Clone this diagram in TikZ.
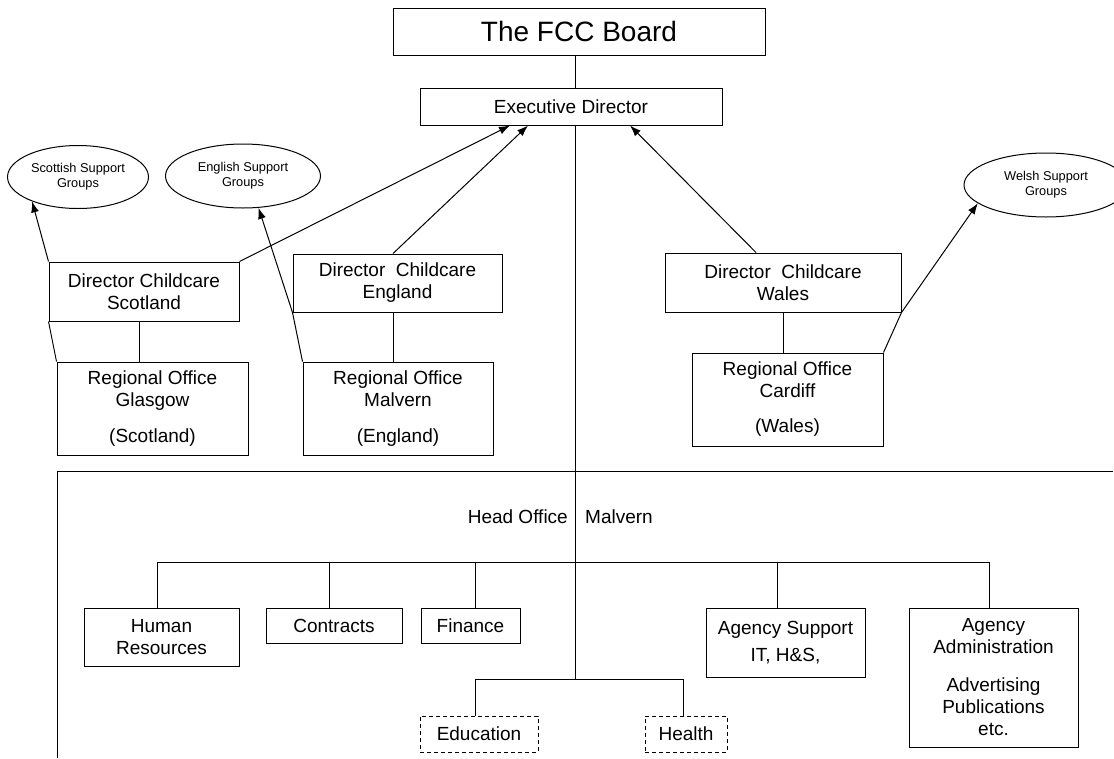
\documentclass[tikz,border=0pt]{standalone}
\usepackage{fontspec}
\setmainfont{Liberation Sans}
\usetikzlibrary{shapes.geometric,arrows.meta}
\tikzset{
  box/.style={draw=black, line width=1pt, align=center, inner sep=0pt, fill=white,
    font=\fontsize{19}{22}\selectfont},
  dbox/.style={box, dash pattern=on 4pt off 3pt},
  grp/.style={draw=black, line width=1pt, shape=ellipse, align=center, inner sep=0pt,
    font=\fontsize{12.8}{15}\selectfont},
  txt/.style={inner sep=0pt, font=\fontsize{19}{22}\selectfont},
  con/.style={draw=black, line width=0.9pt},
  arr/.style={con, line width=1pt, -{Latex[length=11pt,width=8pt]}}
}
\begin{document}
\begin{tikzpicture}[x=1pt,y=-1pt]
\useasboundingbox (0,0) rectangle (1114,758);

% boxes
\node[box, minimum width=372pt, minimum height=47pt, font=\fontsize{28}{32}\selectfont] (board) at (579,31.5) {The FCC Board};
\node[box, minimum width=302pt, minimum height=37pt] (ed) at (571,106.5) {Executive Director};

\node[box, minimum width=190pt, minimum height=59pt] (dsco) at (144,291.5) {Director Childcare\\Scotland};
\node[box, minimum width=209pt, minimum height=58pt] (deng) at (397.5,283) {Director~ Childcare\\England};
\node[box, minimum width=236pt, minimum height=59pt] (dwal) at (783,282.5) {Director~ Childcare\\Wales};

\node[box, minimum width=191pt, minimum height=93pt] (rglas) at (152.5,408.5) {Regional Office\\Glasgow\\[14pt](Scotland)};
\node[box, minimum width=190pt, minimum height=93pt] (rmalv) at (398,408.5) {Regional Office\\Malvern\\[14pt](England)};
\node[box, minimum width=191pt, minimum height=93pt] (rcard) at (787.5,399.5) {Regional Office\\Cardiff\\[13pt](Wales)};

\node[grp, minimum width=141pt, minimum height=63pt] (sco) at (78,177) {Scottish Support\\Groups};
\node[grp, minimum width=155pt, minimum height=64pt] (eng) at (243,176) {English Support\\Groups};
\node[grp, minimum width=164pt, minimum height=64pt] (wel) at (1046,185) {Welsh Support\\Groups};

\node[box, minimum width=155pt, minimum height=58pt] (hr) at (161.5,637) {Human\\Resources};
\node[box, minimum width=136pt, minimum height=35pt] (cont) at (334,625.5) {Contracts};
\node[box, minimum width=99pt, minimum height=35pt] (fin) at (470.5,625.5) {Finance};
\node[box, minimum width=159pt, minimum height=69pt] (asup) at (785.5,642.5) {Agency Support\\[5pt]IT, H\&S,};
\node[box, minimum width=169pt, minimum height=139pt] (aadm) at (993.5,677.5) {Agency\\Administration\\[16pt]Advertising\\Publications\\etc.};

\node[dbox, minimum width=118pt, minimum height=36pt] (edu) at (479,734) {Education};
\node[dbox, minimum width=82pt, minimum height=36pt] (hea) at (686,734) {Health};

\node[txt, anchor=east] (ho) at (568,517) {Head Office};
\node[txt, anchor=west] (hm) at (585,517) {Malvern};

% coordinates
\coordinate (spine) at (575,0);
\coordinate (eduh) at (575,679);
\coordinate (ej) at (475,679);
\coordinate (hj) at (683,679);
\coordinate (hrx) at (157,562);
\coordinate (cx) at (329,562);
\coordinate (fx) at (475,562);
\coordinate (ax) at (777,562);
\coordinate (aax) at (989,562);
\coordinate (xs) at (139,0);
\coordinate (xe) at (393,0);
\coordinate (xw) at (783,0);
\coordinate (fbl) at (57,758);
\coordinate (ftl) at (57,471);
\coordinate (ftr) at (1113,471);

% frame
\draw[con] (fbl) -- (ftl) -- (ftr);

% spine
\draw[con] (board.south -| spine) -- (ed.north -| spine);
\draw[con] (ed.south -| spine) -- (eduh);
\draw[con] (ej |- edu.north) -- (ej) -- (hj) -- (hj |- hea.north);

% head office bar
\draw[con] (hrx) -- (aax);
\draw[con] (hrx) -- (hrx |- hr.north);
\draw[con] (cx) -- (cx |- cont.north);
\draw[con] (fx) -- (fx |- fin.north);
\draw[con] (ax) -- (ax |- asup.north);
\draw[con] (aax) -- (aax |- aadm.north);

% director to regional
\draw[con] (dsco.south -| xs) -- (rglas.north -| xs);
\draw[con] (deng.south -| xe) -- (rmalv.north -| xe);
\draw[con] (dwal.south -| xw) -- (rcard.north -| xw);

% arrows to executive director
\draw[arr] (dsco.north east) -- ([xshift=-61pt]ed.south);
\draw[arr] ([xshift=-4.5pt]deng.north) -- ([xshift=-43pt]ed.south);
\draw[arr] ([xshift=-27pt]dwal.north) -- ([xshift=59pt]ed.south);

% arrows to support groups
\draw[con] (rglas.north west) -- (dsco.south west);
\draw[arr] (dsco.north west) -- (sco.208);
\draw[arr] (rmalv.north west) -- (deng.south west) -- (eng.296);
\draw[arr] (rcard.north east) -- (dwal.south east) -- (wel.195);
\end{tikzpicture}
\end{document}
